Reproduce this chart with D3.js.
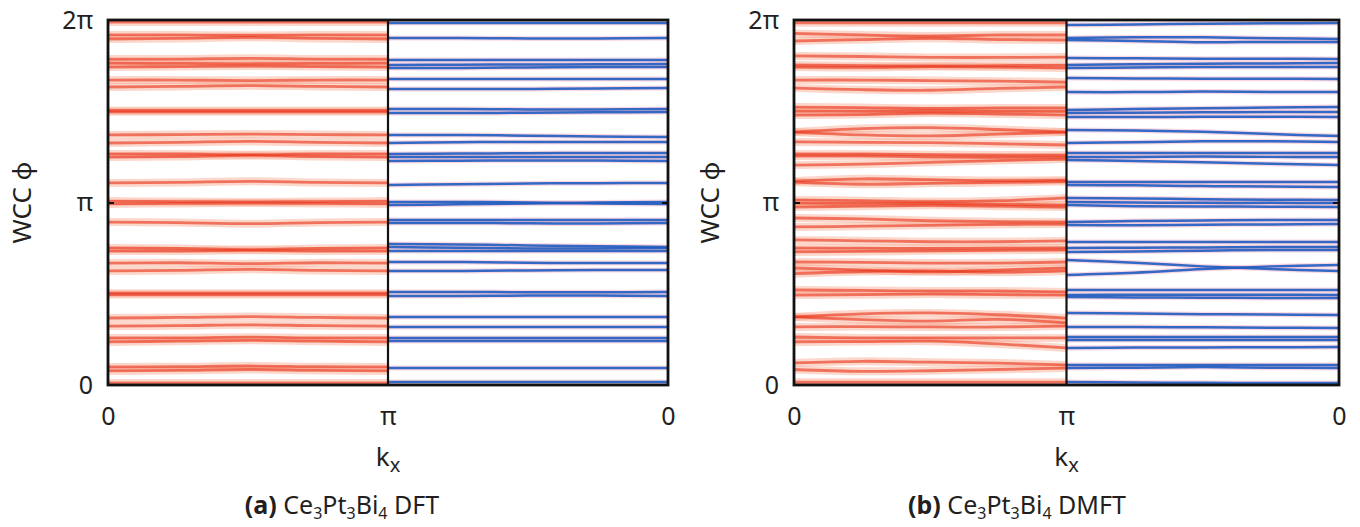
<!DOCTYPE html>
<html><head><meta charset="utf-8">
<script src="https://cdn.jsdelivr.net/npm/d3@7"></script>
<style>body{margin:0;background:#fff}svg{display:block}text{font-family:"Noto Sans","Open Sans",sans-serif;fill:#231f20}</style>
</head><body>
<svg id="chart" width="1360" height="527"></svg>
<script>
// k samples along each half (fraction of the half: 0 -> 1)
const kSamples = [0, 0.25, 0.5, 0.75, 1];
const yTickValues = [0, 1, 2];            // φ in units of π
const yTickLabels = ["0", "π", "2π"];
const xTickValues = [0, 1, 2];            // path parameter
const xTickLabels = ["0", "π", "0"];

// WCC φ/π values, panel (a) DFT, first half (k_x: 0 -> π), red
const dftRed = [
 [1.989,1.989,1.989,1.989,1.989],[1.918,1.918,1.915,1.918,1.918],[1.896,1.899,1.905,1.899,1.896],
 [1.786,1.786,1.790,1.786,1.786],[1.764,1.762,1.760,1.762,1.764],[1.742,1.745,1.748,1.745,1.742],
 [1.671,1.671,1.668,1.671,1.671],[1.633,1.636,1.640,1.636,1.633],[1.504,1.504,1.504,1.504,1.504],
 [1.497,1.497,1.497,1.497,1.497],[1.370,1.372,1.375,1.372,1.370],[1.326,1.330,1.335,1.330,1.326],
 [1.266,1.266,1.262,1.266,1.266],[1.249,1.252,1.258,1.252,1.249],[1.107,1.110,1.116,1.110,1.107],
 [1.008,1.005,1.003,1.005,1.008],[0.992,0.995,0.997,0.995,0.992],[0.893,0.890,0.884,0.890,0.893],
 [0.751,0.748,0.742,0.748,0.751],[0.734,0.734,0.738,0.734,0.734],[0.668,0.670,0.665,0.670,0.668],
 [0.625,0.628,0.634,0.628,0.625],[0.503,0.503,0.503,0.503,0.503],[0.496,0.496,0.496,0.496,0.496],
 [0.367,0.370,0.375,0.370,0.367],[0.323,0.325,0.330,0.325,0.323],[0.258,0.258,0.262,0.258,0.258],
 [0.236,0.240,0.245,0.240,0.236],[0.099,0.100,0.104,0.100,0.099],[0.077,0.080,0.085,0.080,0.077],
 [0.011,0.011,0.011,0.011,0.011]
];
// panel (a) DFT, second half (k_x: π -> 0), blue
const dftBlue = [
 [1.984,1.984,1.984,1.984,1.984],[1.901,1.901,1.899,1.899,1.901],[1.781,1.781,1.781,1.781,1.781],
 [1.753,1.755,1.756,1.757,1.759],[1.737,1.737,1.740,1.742,1.742],[1.677,1.677,1.677,1.677,1.677],
 [1.622,1.622,1.622,1.625,1.627],[1.512,1.512,1.510,1.510,1.512],[1.490,1.490,1.492,1.494,1.496],
 [1.370,1.370,1.366,1.362,1.359],[1.326,1.330,1.332,1.332,1.332],[1.266,1.268,1.270,1.271,1.271],
 [1.249,1.249,1.249,1.249,1.249],[1.227,1.229,1.230,1.230,1.227],[1.096,1.100,1.104,1.106,1.107],
 [1.003,1.003,1.000,0.995,0.992],[0.986,0.990,0.995,1.000,1.003],[0.904,0.904,0.904,0.904,0.904],
 [0.888,0.888,0.886,0.885,0.888],[0.773,0.770,0.765,0.760,0.756],[0.756,0.752,0.748,0.748,0.751],
 [0.734,0.734,0.734,0.734,0.734],[0.674,0.674,0.670,0.668,0.668],[0.625,0.625,0.628,0.630,0.630],
 [0.510,0.510,0.508,0.508,0.510],[0.488,0.488,0.490,0.490,0.488],[0.373,0.373,0.373,0.373,0.373],
 [0.318,0.318,0.318,0.318,0.318],[0.258,0.258,0.258,0.258,0.258],[0.241,0.241,0.241,0.241,0.241],
 [0.093,0.093,0.093,0.093,0.093],[0.016,0.016,0.016,0.016,0.016]
];
// panel (b) DMFT, first half, red
const dmftRed = [
 [1.985,1.985,1.985,1.985,1.985],[1.926,1.918,1.912,1.918,1.918],[1.885,1.893,1.900,1.893,1.890],
 [1.803,1.800,1.795,1.795,1.797],[1.753,1.750,1.748,1.750,1.753],[1.742,1.740,1.745,1.742,1.737],
 [1.671,1.671,1.668,1.665,1.660],[1.627,1.618,1.615,1.625,1.633],[1.523,1.520,1.515,1.518,1.518],
 [1.501,1.500,1.500,1.500,1.500],[1.479,1.482,1.490,1.485,1.479],[1.386,1.405,1.410,1.400,1.386],
 [1.386,1.370,1.365,1.375,1.386],[1.332,1.330,1.328,1.322,1.315],[1.265,1.265,1.262,1.260,1.260],
 [1.255,1.255,1.250,1.248,1.249],[1.205,1.210,1.220,1.230,1.238],[1.117,1.130,1.125,1.120,1.123],
 [1.112,1.100,1.105,1.110,1.115],[1.014,1.010,1.005,1.010,1.025],[0.997,0.995,0.995,0.990,0.986],
 [0.975,0.980,0.985,0.980,0.975],[0.915,0.910,0.900,0.895,0.893],[0.866,0.870,0.875,0.880,0.882],
 [0.795,0.790,0.785,0.785,0.790],[0.751,0.750,0.748,0.750,0.751],[0.729,0.732,0.735,0.738,0.740],
 [0.674,0.672,0.668,0.668,0.674],[0.641,0.630,0.620,0.630,0.641],[0.610,0.622,0.625,0.618,0.625],
 [0.521,0.518,0.515,0.515,0.510],[0.493,0.495,0.498,0.495,0.493],[0.373,0.390,0.395,0.385,0.367],
 [0.373,0.358,0.350,0.360,0.340],[0.318,0.320,0.318,0.318,0.323],[0.263,0.258,0.258,0.258,0.258],
 [0.236,0.238,0.240,0.225,0.203],[0.121,0.130,0.125,0.120,0.110],[0.085,0.075,0.078,0.085,0.093],
 [0.015,0.015,0.015,0.015,0.015]
];
// panel (b) DMFT, second half, blue
const dmftBlue = [
 [1.973,1.975,1.980,1.982,1.984],[1.901,1.905,1.905,1.900,1.896],[1.890,1.885,1.878,1.880,1.879],
 [1.792,1.790,1.788,1.788,1.786],[1.753,1.758,1.760,1.762,1.764],[1.737,1.740,1.742,1.742,1.742],
 [1.682,1.680,1.678,1.678,1.677],[1.605,1.605,1.608,1.606,1.605],[1.507,1.512,1.516,1.520,1.523],
 [1.490,1.492,1.494,1.496,1.496],[1.468,1.468,1.470,1.470,1.468],[1.397,1.395,1.388,1.375,1.364],
 [1.326,1.330,1.335,1.335,1.332],[1.271,1.271,1.271,1.271,1.271],[1.249,1.250,1.252,1.250,1.249],
 [1.233,1.228,1.220,1.212,1.205],[1.112,1.112,1.112,1.112,1.112],[1.096,1.094,1.090,1.088,1.085],
 [1.025,1.022,1.018,1.015,1.014],[1.003,1.000,0.998,0.998,0.997],[0.986,0.980,0.978,0.977,0.975],
 [0.893,0.898,0.902,0.904,0.904],[0.877,0.875,0.878,0.880,0.882],[0.784,0.784,0.784,0.784,0.784],
 [0.751,0.752,0.754,0.756,0.756],[0.729,0.732,0.736,0.740,0.740],[0.685,0.670,0.650,0.635,0.625],
 [0.603,0.615,0.635,0.650,0.658],[0.521,0.521,0.521,0.521,0.521],[0.493,0.495,0.495,0.495,0.493],
 [0.482,0.480,0.478,0.477,0.477],[0.395,0.392,0.388,0.386,0.384],[0.318,0.318,0.316,0.314,0.312],
 [0.263,0.263,0.263,0.263,0.263],[0.247,0.247,0.247,0.247,0.247],[0.203,0.205,0.206,0.207,0.208],
 [0.110,0.110,0.110,0.110,0.110],[0.093,0.095,0.098,0.095,0.093],[0.016,0.014,0.012,0.011,0.011]
];

const panels = [
  {id:"a", x0:108, x1:668, red:dftRed, blue:dftBlue, ylabX:22, capX:342, tag:"(a)", method:"DFT"},
  {id:"b", x0:794, x1:1339, red:dmftRed, blue:dmftBlue, ylabX:710, capX:1017, tag:"(b)", method:"DMFT"}
];
const plotTop = 20, plotBottom = 385;
const svg = d3.select("#chart");
const defs = svg.append("defs");

panels.forEach(p => {
  const x = d3.scaleLinear().domain([0, 2]).range([p.x0, p.x1]);
  const y = d3.scaleLinear().domain([0, 2]).range([plotBottom, plotTop]);
  defs.append("clipPath").attr("id", "clip-" + p.id)
    .append("rect").attr("x", x(0)).attr("y", y(2)).attr("width", x(2) - x(0)).attr("height", y(0) - y(2));
  const g = svg.append("g");
  const plot = g.append("g").attr("clip-path", `url(#clip-${p.id})`);
  const line = d3.line().x(d => x(d[0])).y(d => y(d[1])).curve(d3.curveCatmullRom);
  const redPts = p.red.map(vals => vals.map((v, i) => [kSamples[i], v]));
  const bluePts = p.blue.map(vals => vals.map((v, i) => [1 + kSamples[i], v]));

  plot.append("g").selectAll("path").data(redPts).join("path")
    .attr("d", line).attr("fill", "none").attr("stroke", "#f58a68").attr("stroke-width", 8).attr("stroke-opacity", 0.34);
  plot.append("g").selectAll("path").data(redPts).join("path")
    .attr("d", line).attr("fill", "none").attr("stroke", "#e8341a").attr("stroke-width", 2.8).attr("stroke-opacity", 0.62);
  plot.append("g").selectAll("path").data(bluePts).join("path")
    .attr("d", line).attr("fill", "none").attr("stroke", "#f2a9c0").attr("stroke-width", 5).attr("stroke-opacity", 0.45);
  plot.append("g").selectAll("path").data(bluePts).join("path")
    .attr("d", line).attr("fill", "none").attr("stroke", "#1d5cc0").attr("stroke-width", 2.5).attr("stroke-opacity", 0.9);

  // divider at k = π
  g.append("line").attr("x1", x(1)).attr("x2", x(1)).attr("y1", y(0)).attr("y2", y(2))
    .attr("stroke", "#111").attr("stroke-width", 2.2);
  // frame
  g.append("rect").attr("x", x(0)).attr("y", y(2)).attr("width", x(2) - x(0)).attr("height", y(0) - y(2))
    .attr("fill", "none").attr("stroke", "#111").attr("stroke-width", 2.8);

  // y axis labels
  const yAxis = d3.axisLeft(y).tickValues(yTickValues).tickFormat((d, i) => yTickLabels[i]).tickSize(0).tickPadding(15);
  const ya = g.append("g").attr("transform", `translate(${x(0)},0)`).call(yAxis);
  ya.select(".domain").remove();
  ya.selectAll("text").attr("font-size", 25).attr("font-family", "Noto Sans").attr("fill", "#231f20");
  // small inner ticks at π
  const tl = d3.axisLeft(y).tickValues([1]).tickFormat("").tickSize(-6);
  const t1 = g.append("g").attr("transform", `translate(${x(0)},0)`).call(tl);
  t1.select(".domain").remove(); t1.selectAll("line").attr("stroke", "#111").attr("stroke-width", 2);
  const tr = d3.axisRight(y).tickValues([1]).tickFormat("").tickSize(-6);
  const t2 = g.append("g").attr("transform", `translate(${x(2)},0)`).call(tr);
  t2.select(".domain").remove(); t2.selectAll("line").attr("stroke", "#111").attr("stroke-width", 2);

  // x axis labels
  const xAxis = d3.axisBottom(x).tickValues(xTickValues).tickFormat((d, i) => xTickLabels[i]).tickSize(0).tickPadding(22);
  const xa = g.append("g").attr("transform", `translate(0,${plotBottom})`).call(xAxis);
  xa.select(".domain").remove();
  xa.selectAll("text").attr("font-size", 25).attr("font-family", "Noto Sans").attr("fill", "#231f20");

  // axis titles
  const kx = g.append("text").attr("x", x(1)).attr("y", 466).attr("text-anchor", "middle").attr("font-size", 26);
  kx.append("tspan").text("k");
  kx.append("tspan").attr("font-size", 20).attr("dy", 6).text("x");

  g.append("text").attr("transform", `translate(${p.ylabX},${(plotTop + plotBottom) / 2}) rotate(-90)`)
    .attr("text-anchor", "middle").attr("dy", "0.35em").attr("font-size", 26).text("WCC φ");

  // caption
  const cap = g.append("text").attr("x", p.capX).attr("y", 514).attr("text-anchor", "middle").attr("font-size", 25);
  cap.append("tspan").attr("font-weight", "bold").text(p.tag + " ");
  const parts = [["Ce", 0], ["3", 1], ["Pt", 0], ["3", 1], ["Bi", 0], ["4", 1], [" " + p.method, 0]];
  let shifted = false;
  parts.forEach(([t, sub]) => {
    const ts = cap.append("tspan").text(t);
    if (sub && !shifted) { ts.attr("dy", 5).attr("font-size", 16); shifted = true; }
    else if (sub) { ts.attr("font-size", 16); }
    else if (shifted) { ts.attr("dy", -5); shifted = false; }
  });
});
</script>
</body></html>
